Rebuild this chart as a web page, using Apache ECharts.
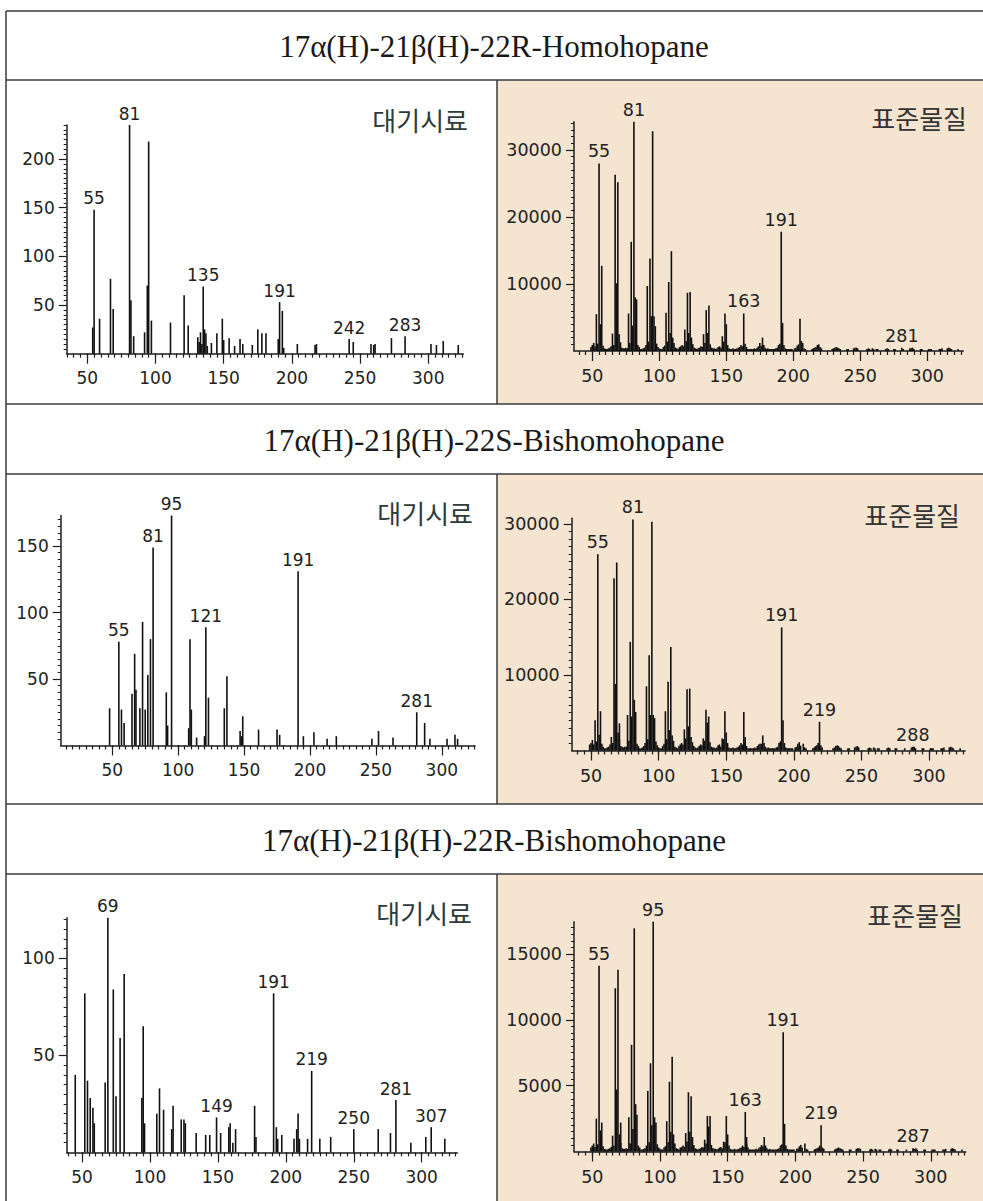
<!DOCTYPE html>
<html>
<head>
<meta charset="utf-8">
<script src="https://cdn.jsdelivr.net/npm/echarts@6/dist/echarts.min.js"></script>
<style>
  html, body { margin: 0; padding: 0; background: #fff; }
  #main { width: 983px; height: 1201px; }
</style>
</head>
<body>
<div id="main"></div>
<script>
// titles
const compoundTitles = [
  "17α(H)-21β(H)-22R-Homohopane",
  "17α(H)-21β(H)-22S-Bishomohopane",
  "17α(H)-21β(H)-22R-Bishomohopane"
];
const airLabel = "대기시료";
const stdLabel = "표준물질";

// x tick labels (m/z)
const xTickLabels = [50, 100, 150, 200, 250, 300];

// y tick labels per panel
const yTicks1 = [50, 100, 150, 200];
const yTicks2 = [10000, 20000, 30000];
const yTicks3 = [50, 100, 150];
const yTicks4 = [10000, 20000, 30000];
const yTicks5 = [50, 100];
const yTicks6 = [5000, 10000, 15000];

// ---- peaks [m/z, intensity] ----
// 22R-Homohopane, air sample
const air1 = [[54,27],[55,148],[59,36],[67,77],[69,46],[81,235],[82,55],[84,18],[92,22],[94,70],[95,218],[97,34],
  [111,32],[121,60],[124,29],[131,17],[132,12],[133,22],[134,10],[135,69],[136,25],[137,21],[138,8],[141,11],[145,21],
  [149,36],[150,14],[154,16],[158,8],[162,15],[164,10],[171,9],[175,25],[178,21],[181,21],[190,15],[191,53],[193,44],
  [194,6],[204,10],[217,9],[218,10],[242,15],[245,12],[258,10],[260,9],[261,10],[273,16],[283,18],[302,10],[306,9],
  [311,13],[322,9]];
const air1Labels = [55, 81, 135, 191, 242, 283];

// 22R-Homohopane, standard
const std1 = [[53,5500],[55,28000],[56,4000],[57,12700],[65,2600],[67,26300],[68,10100],[69,25200],[70,2500],
  [77,5600],[79,16300],[80,3800],[81,34200],[82,8000],[83,7700],[91,9700],[93,13800],[94,5200],[95,32800],[96,5200],
  [97,3700],[105,5700],[107,10300],[108,2700],[109,14900],[110,2000],[119,3200],[121,8700],[122,2700],[123,8800],
  [124,2000],[133,2500],[135,6100],[136,2700],[137,6800],[147,2200],[149,5600],[150,4000],[163,5600],[175,1200],
  [177,2000],[191,17800],[192,4200],[205,4800],[206,1500],[219,1000],[281,500]];
const std1Labels = [55, 81, 163, 191, 281];

// 22S-Bishomohopane, air sample
const air2 = [[48,28],[55,78],[57,27],[59,17],[65,39],[67,69],[68,42],[71,28],[73,93],[75,27],[77,53],[79,80],
  [81,149],[91,40],[92,15],[95,173],[108,13],[109,80],[110,27],[114,6],[120,7],[121,89],[123,36],[135,28],[137,52],
  [147,11],[148,7],[149,22],[161,12],[175,12],[177,8],[191,131],[195,7],[203,10],[213,5],[220,7],[247,5],[252,11],
  [263,6],[281,25],[287,17],[291,5],[304,5],[310,8],[312,5]];
const air2Labels = [55, 81, 95, 121, 191, 281];

// 22S-Bishomohopane, standard
const std2 = [[53,4000],[55,26000],[56,2100],[57,5200],[65,1800],[67,22800],[68,8800],[69,24900],[70,2400],
  [71,3600],[77,4700],[79,14400],[80,4500],[81,30600],[82,6700],[83,5100],[91,8500],[93,12600],[94,4700],[95,30300],
  [96,4700],[97,4300],[105,5200],[107,9100],[108,2700],[109,13700],[110,2000],[119,2800],[121,8100],[122,3200],
  [123,8200],[124,1800],[133,1600],[135,5400],[136,3700],[137,4500],[147,1600],[149,5200],[150,2400],[163,5100],
  [164,1800],[175,900],[177,2000],[191,16300],[192,4000],[205,650],[219,3800],[288,400]];
const std2Labels = [55, 81, 191, 219, 288];

// 22R-Bishomohopane, air sample
const air3 = [[45,40],[52,82],[54,37],[56,28],[58,23],[59,15],[67,36],[69,121],[73,84],[75,29],[78,59],[81,92],
  [94,28],[95,65],[96,15],[105,20],[107,33],[110,22],[116,12],[117,24],[123,17],[125,17],[126,15],[134,10],[141,9],
  [144,9],[149,18],[152,10],[158,13],[159,15],[161,5],[163,12],[177,24],[178,8],[191,82],[193,13],[194,7],[197,9],
  [206,7],[208,12],[209,20],[210,7],[216,7],[219,42],[225,7],[233,8],[250,12],[268,12],[277,10],[281,27],[292,5],
  [303,8],[307,13],[317,7]];
const air3Labels = [69, 149, 191, 219, 250, 281, 307];

// 22R-Bishomohopane, standard
const std3 = [[53,2500],[55,14100],[56,1600],[57,2200],[65,1200],[67,12400],[68,4700],[69,13800],[70,1300],
  [71,2200],[77,2600],[79,8100],[80,1700],[81,16950],[82,3600],[83,2800],[91,4600],[93,6700],[94,2000],[95,17450],
  [96,2600],[97,2200],[105,2300],[107,5300],[108,1500],[109,7200],[110,1300],[119,1400],[121,4500],[122,1500],
  [123,4200],[124,1100],[133,900],[135,2700],[136,1900],[137,2700],[147,750],[149,2700],[150,1300],[163,3000],
  [164,1100],[175,500],[177,1100],[191,9050],[192,2100],[205,300],[219,2000],[287,250]];
const std3Labels = [55, 95, 163, 191, 219, 287];

// small baseline peaks of the standards
const noiseMz = [
  49,50,51,52,54,58,59,60,61,62,63,64,66,
  71,72,73,74,75,76,78,84,85,86,87,88,89,90,
  92,98,99,100,101,102,103,104,106,111,112,113,114,115,116,117,118,120,
  125,126,127,128,129,130,131,132,134,138,139,140,141,142,143,144,145,146,148,
  151,152,153,154,155,156,157,158,159,160,161,162,164,165,166,167,168,169,170,171,172,173,174,176,
  178,179,180,181,182,183,184,185,186,187,188,189,190,193,194,195,196,197,198,199,201,202,203,204,207,208,209,214,215,216,217,218,220,221,
  229,230,231,232,233,234,235,240,241,245,246,247,248,255,256,257,259,260,262,263,269,270,271,275,276,282,287,288,289,290,295,296,301,302,303,309,310,311,315,316,317,318,323
];
const std1Noise = [
  600,900,1200,700,1100,800,400,300,300,400,500,700,900,
  1300,500,400,400,500,400,1200,900,600,300,300,400,500,900,
  1400,1100,600,400,300,300,600,800,1400,1200,500,400,300,600,700,900,700,1500,
  1000,500,400,300,400,500,700,600,1200,1000,500,400,400,300,400,600,700,500,1400,
  900,400,300,300,400,300,300,400,500,600,900,700,1100,600,300,300,300,300,300,400,300,500,700,800,
  900,500,300,400,300,300,300,300,300,400,500,900,1100,900,400,300,300,300,300,300,400,500,800,1000,1200,400,300,300,400,500,600,900,600,400,
  300,400,500,600,500,400,300,300,300,400,500,500,400,300,400,300,400,300,300,300,300,400,300,300,300,300,400,400,500,300,300,300,300,300,300,300,300,400,400,500,400,300,300
];
const std2Noise = [
  800,1000,1400,800,1200,900,500,300,300,400,500,800,1000,
  1500,600,500,400,500,500,1300,900,600,300,300,400,600,1000,
  1500,1200,700,400,300,300,600,900,1500,1300,500,400,300,600,800,1000,800,1600,
  1100,600,400,300,400,600,800,700,1300,1100,500,400,400,300,400,700,800,500,1500,
  1000,400,300,300,400,300,300,400,500,700,1000,800,1200,600,300,300,300,300,300,400,300,600,800,900,
  1000,500,300,400,300,300,300,300,300,400,500,1000,1200,1000,400,300,300,300,300,300,400,500,900,1100,900,400,300,300,400,600,700,1000,700,400,
  300,400,600,700,600,400,300,300,300,400,500,600,400,300,400,300,400,300,300,300,300,400,300,300,300,300,400,500,500,300,300,300,300,300,300,300,300,400,400,500,400,300,300
];
const std3Noise = [
  300,450,600,350,550,400,200,150,150,200,250,350,450,
  650,250,200,200,250,200,600,450,300,150,150,200,250,450,
  700,550,300,200,150,150,300,400,700,600,250,200,150,300,350,450,350,750,
  500,250,200,150,200,250,350,300,600,500,250,200,200,150,200,300,350,250,700,
  450,200,150,150,200,150,150,200,250,300,450,350,550,300,150,150,150,150,150,200,150,250,350,400,
  450,250,150,200,150,150,150,150,150,200,250,450,550,450,200,150,150,150,150,150,200,250,400,500,600,200,150,150,200,250,300,450,300,200,
  150,200,250,300,250,200,150,150,150,200,250,250,200,150,200,150,200,150,150,150,150,200,150,150,150,150,200,200,250,150,150,150,150,150,150,150,150,200,200,250,200,150,150
];

// ---- layout ----
const TICK_FONT = "DejaVu Sans";
const panels = [
  { grid: { left: 66.7, top: 125, width: 396.6, height: 228.7 }, x: [34.9, 325.7], yMax: 235, yStep: 5,
    yTicks: yTicks1, peaks: air1, labels: air1Labels, noise: null, tag: airLabel, tagPos: [468, 119], fs: 17 },
  { grid: { left: 574, top: 121.7, width: 389.3, height: 229.3 }, x: [36.3, 326.9], yMax: 34220, yStep: 1000,
    yTicks: yTicks2, peaks: std1, labels: std1Labels, noise: std1Noise, tag: stdLabel, tagPos: [967, 117], fs: 17.5 },
  { grid: { left: 60.7, top: 515.5, width: 414.3, height: 230 }, x: [10.9, 325.2], yMax: 173, yStep: 5,
    yTicks: yTicks3, peaks: air2, labels: air2Labels, noise: null, tag: airLabel, tagPos: [473, 512], fs: 17 },
  { grid: { left: 571.7, top: 518.3, width: 393.3, height: 232.2 }, x: [35.7, 326.6], yMax: 30750, yStep: 1000,
    yTicks: yTicks4, peaks: std2, labels: std2Labels, noise: std2Noise, tag: stdLabel, tagPos: [960, 514], fs: 17.5 },
  { grid: { left: 66.7, top: 917.7, width: 390.6, height: 234.7 }, x: [38.7, 326.2], yMax: 121, yStep: 5,
    yTicks: yTicks5, peaks: air3, labels: air3Labels, noise: null, tag: airLabel, tagPos: [472, 912], fs: 17 },
  { grid: { left: 574, top: 921.7, width: 391.7, height: 229.8 }, x: [36.5, 325.8], yMax: 17450, yStep: 500,
    yTicks: yTicks6, peaks: std3, labels: std3Labels, noise: std3Noise, tag: stdLabel, tagPos: [963, 914], fs: 17.5 }
];

function steps(min, max, step) {
  const out = [];
  for (let v = Math.ceil(min / step) * step; v <= max + 1e-9; v += step) out.push(v);
  return out;
}
const plain = v => String(v);

const AX = '#1e1e1e';
const grids = [], xAxes = [], yAxes = [], series = [];

panels.forEach((p, i) => {
  grids.push(Object.assign({ containLabel: false }, p.grid));

  // minor ticks + axis line
  xAxes.push({
    gridIndex: i, type: 'value', position: 'bottom', min: p.x[0], max: p.x[1],
    axisLine: { show: true, onZero: false, lineStyle: { color: AX, width: 1.5 } },
    axisTick: { show: true, customValues: steps(p.x[0], p.x[1], 5), length: 4, lineStyle: { color: AX, width: 1.2 } },
    axisLabel: { show: false }, splitLine: { show: false }
  });
  // major ticks + labels
  xAxes.push({
    gridIndex: i, type: 'value', position: 'bottom', min: p.x[0], max: p.x[1],
    axisLine: { show: false },
    axisTick: { show: true, customValues: xTickLabels, length: 10, lineStyle: { color: AX, width: 1.2 } },
    axisLabel: { show: true, customValues: xTickLabels, margin: 16, color: '#222', formatter: plain,
      fontFamily: TICK_FONT, fontSize: p.fs },
    splitLine: { show: false }
  });

  yAxes.push({
    gridIndex: i, type: 'value', position: 'left', min: 0, max: p.yMax,
    axisLine: { show: true, onZero: false, lineStyle: { color: AX, width: 1.5 } },
    axisTick: { show: true, customValues: steps(p.yStep, p.yMax, p.yStep), length: 3, lineStyle: { color: AX, width: 1 } },
    axisLabel: { show: false }, splitLine: { show: false }
  });
  yAxes.push({
    gridIndex: i, type: 'value', position: 'left', min: 0, max: p.yMax,
    axisLine: { show: false },
    axisTick: { show: true, customValues: p.yTicks, length: 8, lineStyle: { color: AX, width: 1.2 } },
    axisLabel: { show: true, customValues: p.yTicks, margin: 12, color: '#222', formatter: plain,
      fontFamily: TICK_FONT, fontSize: p.fs },
    splitLine: { show: false }
  });

  const data = [];
  if (p.noise) noiseMz.forEach((m, k) => data.push({ value: [m, p.noise[k]] }));
  p.peaks.forEach(pk => {
    const item = { value: pk };
    if (p.labels.includes(pk[0])) item.label = { show: true, formatter: String(pk[0]) };
    data.push(item);
  });

  series.push({
    type: 'bar', xAxisIndex: 2 * i, yAxisIndex: 2 * i,
    barWidth: 1.6, clip: false,
    itemStyle: { color: '#111' },
    label: { show: false, position: 'top', distance: 3, color: '#222', fontFamily: TICK_FONT, fontSize: p.fs },
    data: data
  });
});

// table frame
const LINE = { stroke: '#3a3a3a', lineWidth: 1.5 };
const rowLines = [11, 80, 404, 474, 804, 874];
const bodyRows = [[80, 404], [474, 804], [874, 1201]];
const titleRows = [[11, 80], [404, 474], [804, 874]];
const graphics = [];
bodyRows.forEach(r => {
  graphics.push({ type: 'rect', z: -100, shape: { x: 497, y: r[0], width: 486, height: r[1] - r[0] },
    style: { fill: '#f4e4d0' } });
  graphics.push({ type: 'line', z: 100, shape: { x1: 497, y1: r[0], x2: 497, y2: r[1] }, style: LINE });
});
rowLines.forEach(y => graphics.push({ type: 'line', z: 100, shape: { x1: 6, y1: y, x2: 983, y2: y }, style: LINE }));
graphics.push({ type: 'line', z: 100, shape: { x1: 6, y1: 11, x2: 6, y2: 1201 }, style: LINE });
titleRows.forEach((r, k) => graphics.push({
  type: 'text', z: 100, x: 494, y: (r[0] + r[1]) / 2 + 1,
  style: { text: compoundTitles[k], fill: '#1a1a1a', font: '31px "Liberation Serif"',
    textAlign: 'center', textVerticalAlign: 'middle' }
}));
panels.forEach(p => graphics.push({
  type: 'text', z: 100, x: p.tagPos[0], y: p.tagPos[1],
  style: { text: p.tag, fill: p.tag === airLabel ? '#2e3b3b' : '#333', font: '26px "Noto Sans CJK KR"',
    textAlign: 'right', textVerticalAlign: 'middle' }
}));

const chart = echarts.init(document.getElementById('main'), null, { renderer: 'svg' });
chart.setOption({
  animation: false,
  backgroundColor: '#fff',
  grid: grids,
  xAxis: xAxes,
  yAxis: yAxes,
  series: series,
  graphic: { elements: graphics }
});
</script>
</body>
</html>
